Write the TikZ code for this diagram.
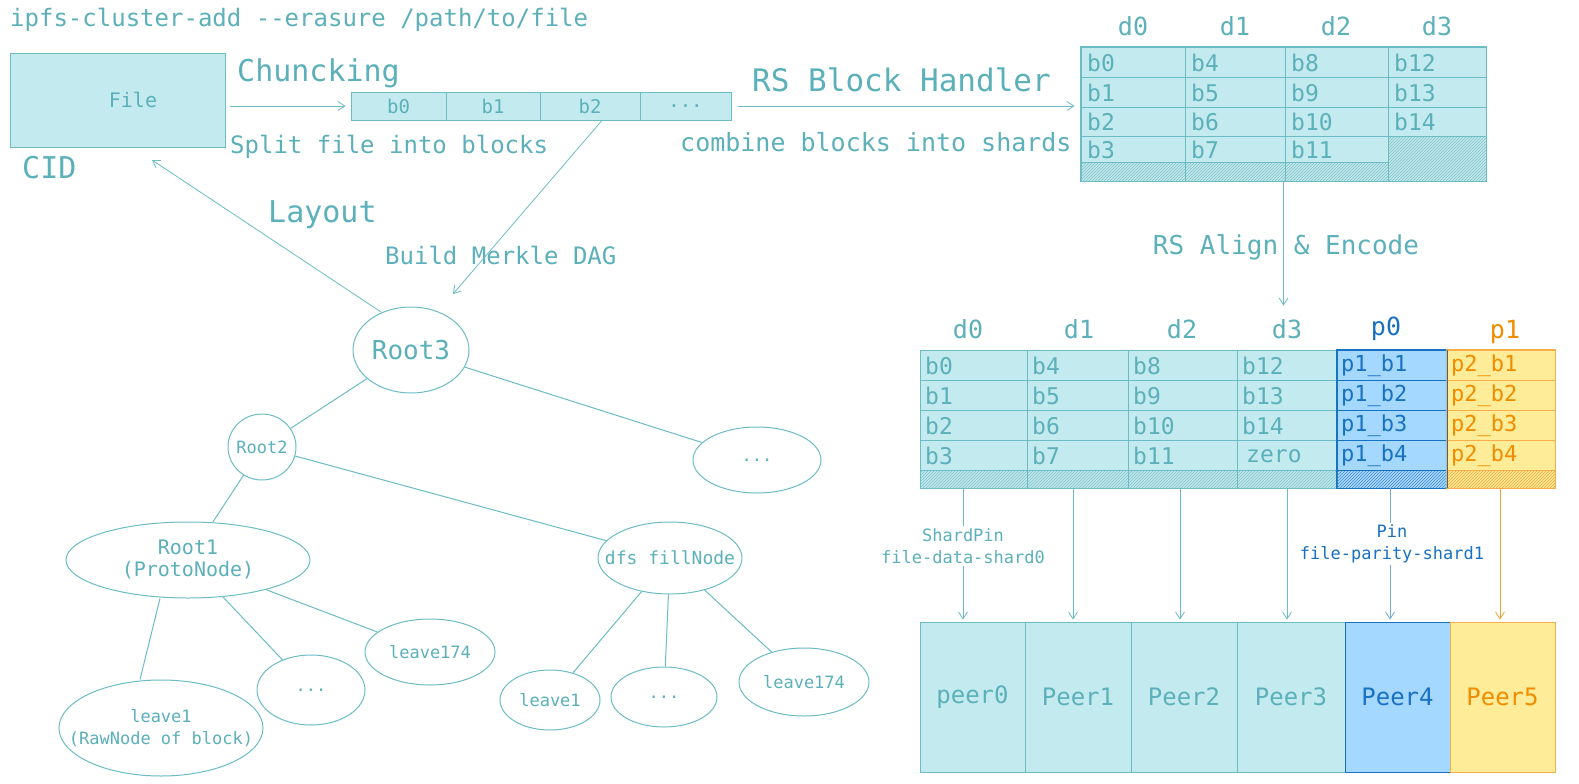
\documentclass[tikz,border=0pt]{standalone}
\usepackage{fontspec}
\setmonofont{DejaVu Sans Mono}
\usetikzlibrary{arrows.meta,patterns,shapes.geometric}
\definecolor{tl}{RGB}{92,176,186}
\definecolor{tlline}{RGB}{108,188,198}
\definecolor{cy}{RGB}{195,234,238}
\definecolor{bl}{RGB}{25,113,194}
\definecolor{blf}{RGB}{165,216,255}
\definecolor{orr}{RGB}{240,140,0}
\definecolor{yf}{RGB}{255,236,153}
\newcommand{\fsz}[1]{\fontsize{#1}{#1}\selectfont}
\begin{document}
\begin{tikzpicture}[x=1pt,y=-1pt,
  >={Straight Barb[length=7pt,width=9pt]},
  lbl/.style={text=tl, inner sep=0pt, font=\ttfamily\fsz{#1}},
  lbl/.default=24,
  conn/.style={draw=tlline, line width=0.8pt},
  edge/.style={draw=tlline, line width=1pt},
  ell/.style={ellipse, draw=tlline, line width=1pt, inner sep=0pt},
  etx/.style={text=tl, inner sep=0pt, align=center, font=\ttfamily\fontsize{#1}{22}\selectfont},
  etx/.default=17,
  cellbox/.style={draw=tlline, fill=cy, line width=0.8pt, inner sep=0pt, text=tl, font=\ttfamily\fsz{19}},
  gline/.style={draw=tlline, line width=0.8pt},
  hatch/.style={pattern=north east lines, pattern color=#1},
  celltxt/.style={anchor=west, inner sep=0pt, text=tl, font=\ttfamily\fsz{23}},
  peerbox/.style={draw=tlline, fill=cy, line width=0.8pt, inner sep=0pt, minimum height=150pt, text=tl, font=\ttfamily\fsz{24}},
  pinlbl/.style={fill=white, inner sep=2pt, align=center, font=\ttfamily\fontsize{17}{22}\selectfont}
]
\useasboundingbox[fill=white] (0,0) rectangle (1579,784);

% ---- title
\node[lbl=24, anchor=west] (title) at (10,20) {ipfs-cluster-add -{}-erasure /path/to/file};

% ---- file
\node[cellbox, minimum width=215pt, minimum height=94pt] (file) at (117.5,100) {};
\node[lbl=20] (filelbl) at (133,100) {File};
\node[lbl=30, anchor=west] (cid) at (22,168) {CID};

% ---- chunk strip
\node[lbl=30, anchor=west] (chunk) at (237,73) {Chuncking};
\node[cellbox, minimum width=95pt, minimum height=28pt] (s0) at (398.5,106) {b0};
\node[cellbox, minimum width=94pt, minimum height=28pt] (s1) at (493,106) {b1};
\node[cellbox, minimum width=100pt, minimum height=28pt] (s2) at (590,106) {b2};
\node[cellbox, minimum width=91pt, minimum height=28pt] (s3) at (685.5,106) {...};
\node[lbl=24, anchor=west] (split) at (230,147) {Split file into blocks};
\draw[conn,->, shorten <=5pt, shorten >=5pt] (file.east |- s0.west) -- (s0.west);

% ---- RS block handler
\node[lbl=31, anchor=west] (rsbh) at (752,80) {RS Block Handler};
\node[lbl=25, anchor=west] (comb) at (680,142) {combine blocks into shards};

% ---- top grid
\node[draw=tlline, fill=cy, line width=0.8pt, minimum width=405pt, minimum height=134pt, inner sep=0pt] (topgrid) at (1283.5,114) {};
\fill[hatch=tl!80] (1081,162) rectangle (1388,181);
\fill[hatch=tl!80] (1388,136) rectangle (1486,181);
\foreach \xx in {1185,1285,1388} \draw[gline] (\xx,47) -- (\xx,181);
\foreach \yy in {77,107,136} \draw[gline] (1081,\yy) -- (1486,\yy);
\draw[gline] (1081,162) -- (1388,162);
\draw[tlline, line width=0.8pt] (topgrid.south west) rectangle (topgrid.north east);
\foreach \nm/\xx in {d0/1133,d1/1235,d2/1336,d3/1437}
  \node[lbl=25] (th\nm) at (\xx,26) {\nm};
\foreach \i/\xx in {0/1081,1/1185,2/1285}
  \foreach \j/\yy in {0/63,1/93,2/122,3/150}
  {
    \pgfmathtruncatemacro{\k}{4*\i+\j}
    \node[celltxt] (tc\k) at (\xx+6,\yy) {b\k};
  }
\node[celltxt] (tc12) at (1394,63) {b12};
\node[celltxt] (tc13) at (1394,93) {b13};
\node[celltxt] (tc14) at (1394,122) {b14};
\draw[conn,->, shorten <=7pt, shorten >=6pt] (s3.east) -- (topgrid.west |- s3.east);

% ---- RS align
\node[lbl=26] (rsal) at (1286,247) {RS Align \& Encode};

% ---- bottom grid
\node[draw=tlline, fill=cy, line width=0.8pt, minimum width=417pt, minimum height=138pt, inner sep=0pt] (dgrid) at (1128.5,419) {};
\node[draw=bl, fill=blf, line width=0.8pt, minimum width=110pt, minimum height=138pt, inner sep=0pt] (pzero) at (1392,419) {};
\node[draw=orr!70, fill=yf, line width=0.8pt, minimum width=108pt, minimum height=138pt, inner sep=0pt] (pone) at (1501,419) {};
\fill[hatch=tl!80] (920,470) rectangle (1337,488);
\fill[hatch=bl!80] (1337,470) rectangle (1447,488);
\fill[hatch=orr!80] (1447,470) rectangle (1555,488);
\foreach \xx in {1027,1128,1237} \draw[gline] (\xx,350) -- (\xx,488);
\foreach \yy in {380,410,440,470} {
  \draw[gline] (920,\yy) -- (1337,\yy);
  \draw[bl, line width=0.8pt] (1337,\yy) -- (1447,\yy);
  \draw[orr!70, line width=0.8pt] (1447,\yy) -- (1555,\yy);
}
\draw[draw=bl, line width=0.8pt] (pzero.south west) rectangle (pzero.north east);
\draw[draw=orr!70, line width=0.8pt] (pone.south west) rectangle (pone.north east);
\foreach \nm/\xx in {d0/968,d1/1079,d2/1182,d3/1287}
  \node[lbl=25] (bh\nm) at (\xx,329) {\nm};
\node[lbl=25, text=bl] (bhp0) at (1386,329) {p0};
\node[lbl=25, text=orr] (bhp1) at (1505,332) {p1};
\foreach \i/\xx in {0/920,1/1027,2/1128}
  \foreach \j/\yy in {0/366,1/396,2/426,3/456}
  {
    \pgfmathtruncatemacro{\k}{4*\i+\j}
    \node[celltxt] (bc\k) at (\xx+5,\yy) {b\k};
  }
\node[celltxt] (bc12) at (1242,366) {b12};
\node[celltxt] (bc13) at (1242,396) {b13};
\node[celltxt] (bc14) at (1242,426) {b14};
\node[celltxt] (bzero) at (1246,456) {zero};
\foreach \j/\yy in {1/366,2/396,3/426,4/456}
{
  \node[celltxt, text=bl, font=\ttfamily\fsz{22}] (pa\j) at (1341,\yy) {p1\_b\j};
  \node[celltxt, text=orr, font=\ttfamily\fsz{22}] (pb\j) at (1451,\yy) {p2\_b\j};
}
\draw[conn,->, shorten >=44pt] (topgrid.south) -- (topgrid.south |- dgrid.north);

% ---- peers
\node[peerbox, minimum width=105pt] (peer0) at (972.5,697) {peer0};
\node[peerbox, minimum width=106pt] (peer1) at (1078,697) {Peer1};
\node[peerbox, minimum width=106pt] (peer2) at (1184,697) {Peer2};
\node[peerbox, minimum width=108pt] (peer3) at (1291,697) {Peer3};
\node[peerbox, minimum width=105pt, draw=bl, fill=blf, text=bl] (peer4) at (1397.5,697) {Peer4};
\node[peerbox, minimum width=105pt, draw=orr!70, fill=yf, text=orr] (peer5) at (1502.5,697) {Peer5};

\coordinate (c0) at (963,488);
\coordinate (c1) at (1073,488);
\coordinate (c2) at (1180,488);
\coordinate (c3) at (1287,488);
\coordinate (c4) at (1390,488);
\coordinate (c5) at (1500,488);
\foreach \i in {0,1,2,3}
  \draw[conn,->, shorten >=2pt] (c\i) -- (c\i |- peer\i.north);
\draw[draw=bl!60, line width=0.8pt,->, shorten >=2pt] (c4) -- (c4 |- peer4.north);
\draw[draw=orr!80, line width=0.8pt,->, shorten >=2pt] (c5) -- (c5 |- peer5.north);
\node[pinlbl, text=tl] (spin) at (963,546) {ShardPin\\file-data-shard0};
\node[pinlbl, text=bl] (ppin) at (1392,544) {Pin\\file-parity-shard1};

% ---- tree
\node[ell, minimum width=116pt, minimum height=86pt, label={[etx=26]center:Root3}] (root3) at (411,350) {};
\node[ell, minimum width=68pt, minimum height=66pt, label={[etx]center:Root2}] (root2) at (262,447) {};
\node[ell, minimum width=128pt, minimum height=66pt, label={[etx]center:...}] (dots1) at (757,460) {};
\node[ell, minimum width=244pt, minimum height=76pt, label={[etx=20]center:Root1\\(ProtoNode)}] (root1) at (188,560) {};
\node[ell, minimum width=144pt, minimum height=72pt, label={[etx=18]center:dfs fillNode}] (dfs) at (670,558) {};
\node[ell, minimum width=130pt, minimum height=66pt, label={[etx]center:leave174}] (leafa) at (430,652) {};
\node[ell, minimum width=108pt, minimum height=70pt, label={[etx]center:...}] (dots2) at (311,690) {};
\node[ell, minimum width=204pt, minimum height=96pt, label={[etx]center:leave1\\(RawNode of block)}] (leafb) at (161,728) {};
\node[ell, minimum width=100pt, minimum height=60pt, label={[etx]center:leave1}] (leafc) at (550,700) {};
\node[ell, minimum width=106pt, minimum height=60pt, label={[etx]center:...}] (dots3) at (664,697) {};
\node[ell, minimum width=130pt, minimum height=68pt, label={[etx]center:leave174}] (leafd) at (804,682) {};

\draw[edge] (root3) -- (root2);
\draw[edge] (root3) -- (dots1);
\draw[edge] (root2) -- (root1);
\draw[edge] (root2) -- (dfs);
\draw[edge] ([xshift=-28pt]root1.south) -- ([xshift=-21pt]leafb.north);
\draw[edge] (root1) -- (dots2);
\draw[edge] (root1) -- (leafa);
\draw[edge] (dfs) -- (leafc);
\draw[edge] (dfs) -- (dots3);
\draw[edge] (dfs) -- (leafd);

% ---- layout & DAG arrows
\node[lbl=30, anchor=west] (layout) at (268,215) {Layout};
\node[lbl=24, anchor=west] (bmd) at (385,255) {Build Merkle DAG};
\coordinate (fileend) at (152,160);
\coordinate (dagend) at (453,294);
\draw[conn,->] (root3.128) -- (fileend);
\draw[conn,->] ([xshift=12pt]s2.south) -- (dagend);
\end{tikzpicture}
\end{document}
